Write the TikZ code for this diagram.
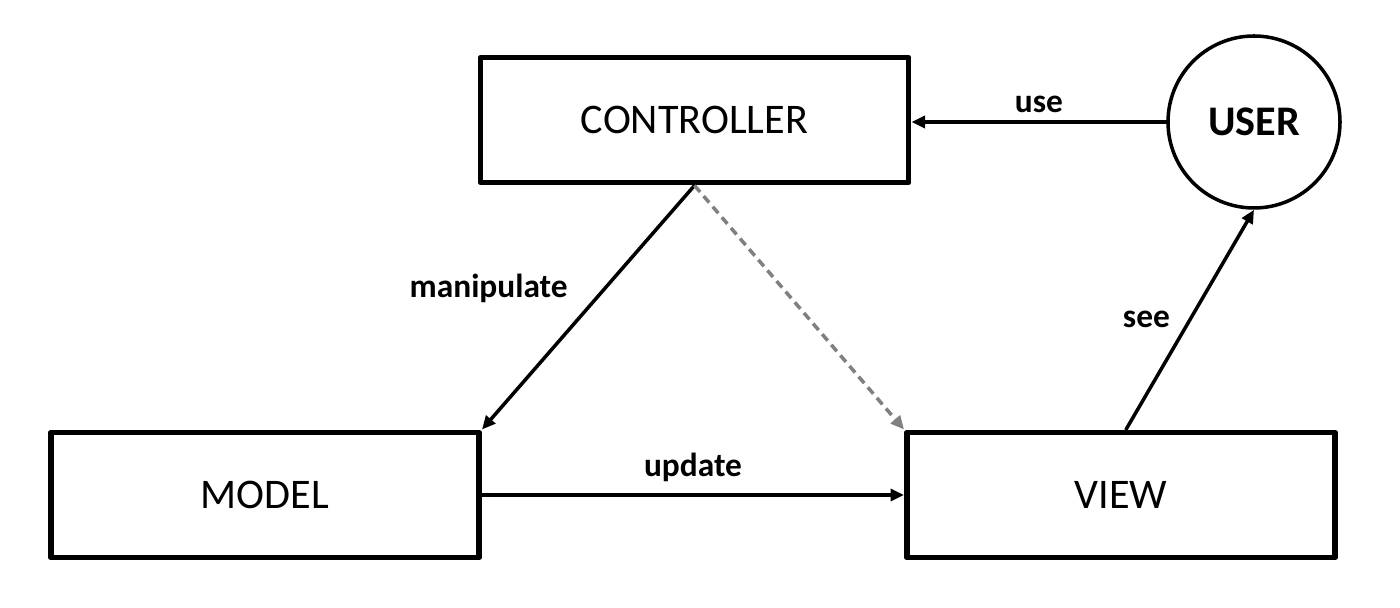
\documentclass[tikz,border=0pt]{standalone}
\usepackage{fontspec}
\setmainfont{Carlito}
\usetikzlibrary{arrows.meta}

\begin{document}
\begin{tikzpicture}[x=1cm,y=1cm,line cap=round,line join=round]

\definecolor{ink}{RGB}{0,0,0}
\definecolor{hint}{RGB}{128,128,128}

\tikzset{
  block/.style={draw=ink, line width=3.4pt, line cap=butt, fill=white,
    minimum width=8.56cm, minimum height=2.5cm, font=\fontsize{24}{28}\selectfont},
  actor/.style={draw=ink, circle, line width=2pt, minimum size=3.44cm,
    font=\bfseries\fontsize{24}{28}\selectfont},
  flow/.style={draw=ink, line width=2pt, -{Triangle[length=0.27cm,width=0.24cm]}},
  weak/.style={draw=hint, line width=2pt, dash pattern=on 0.17cm off 0.11cm,
    line cap=butt, -{Triangle[length=0.27cm,width=0.24cm]}},
  tag/.style={font=\bfseries\fontsize{19}{22}\selectfont}
}

\path[use as bounding box] (0,0) rectangle (28,12.16);

% nodes
\node[block] (ctrl) at (13.89,9.76) {CONTROLLER};
\node[block] (model) at (5.3,2.26) {MODEL};
\node[block] (view) at (22.42,2.26) {VIEW};
\node[actor] (user) at (25.08,9.72) {USER};

% connectors
\draw[flow] (user.west) -- (ctrl.east |- user.west)
  node[tag, midway, above=1pt] {use};
\draw[flow] (ctrl.south) -- (model.north east)
  node[tag, pos=0.42, left=0.6cm] {manipulate};
\draw[weak] (ctrl.south) -- (view.north west);
\draw[flow] (model.east) -- (view.west)
  node[tag, midway, above=3pt] {update};
\draw[flow] ([xshift=0.1cm]view.north) -- (user.south)
  node[tag, midway, left=0.25cm] {see};

\end{tikzpicture}
\end{document}
